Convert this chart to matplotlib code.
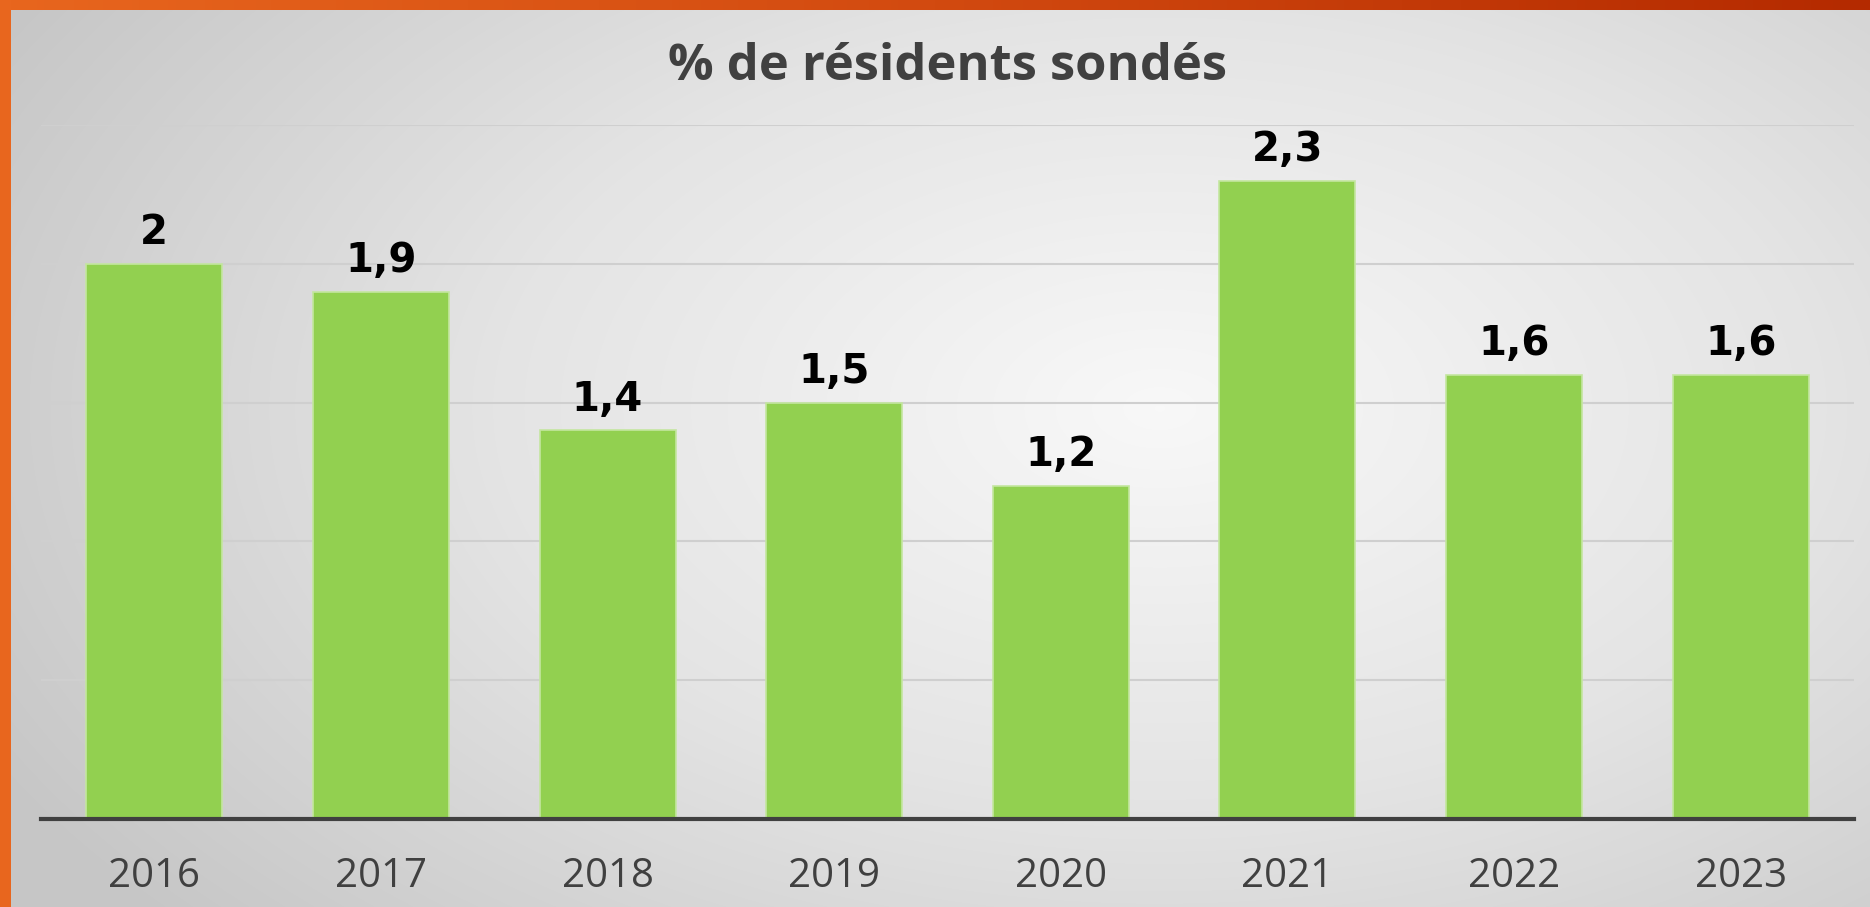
import numpy as np
import matplotlib
matplotlib.use("Agg")
import matplotlib.pyplot as plt
from matplotlib.colors import LinearSegmentedColormap

years = ["2016", "2017", "2018", "2019", "2020", "2021", "2022", "2023"]
values = [2.0, 1.9, 1.4, 1.5, 1.2, 2.3, 1.6, 1.6]
title = "% de résidents sondés"

W, H = 1870, 907
fig = plt.figure(figsize=(W / 100, H / 100), dpi=100)

# background radial gradient
bg = fig.add_axes([0, 0, 1, 1], zorder=-10)
yy, xx = np.mgrid[0:H, 0:W]
cx, cy = 0.62 * W, 0.45 * H
r = np.sqrt(((xx - cx) / (0.62 * W)) ** 2 + ((yy - cy) / (0.75 * H)) ** 2)
r = np.clip(r / 1.15, 0, 1)
cmap = LinearSegmentedColormap.from_list("bg", ["#f8f8f8", "#e4e4e4", "#c6c6c6"])
bg.imshow(r, cmap=cmap, extent=[0, W, H, 0], aspect="auto", vmin=0, vmax=1)
# orange border top and left
top = np.linspace(0, 1, W)[None, :]
ocmap = LinearSegmentedColormap.from_list("or", ["#e8661e", "#d24a10", "#b42a00"])
bg.imshow(np.repeat(top, 2, axis=0), cmap=ocmap, extent=[0, W, 10, 0], aspect="auto")
bg.imshow(np.zeros((2, 2)), cmap=ocmap, extent=[0, 11, H, 0], aspect="auto", vmin=0, vmax=1)
bg.set_xlim(0, W)
bg.set_ylim(H, 0)
bg.axis("off")

ax = fig.add_axes([41 / W, 1 - 819 / H, (1854 - 41) / W, (819 - 125) / H])
ax.set_facecolor("none")
x = np.arange(len(years))
bars = ax.bar(x, values, width=0.6, color="#92D050", edgecolor="#c4e6a0", linewidth=1.2, zorder=3)
ax.set_xlim(-0.5, len(years) - 0.5)
ax.set_ylim(0, 2.5)
ax.set_yticks(np.arange(0.5, 2.51, 0.5))
ax.yaxis.grid(True, color="#cfcfcf", linewidth=1.5, zorder=0)
ax.set_axisbelow(True)
ax.tick_params(axis="y", left=False, labelleft=False)
ax.set_xticks(x)
ax.set_xticklabels(years, fontsize=29, color="#404040", family="Open Sans")
ax.tick_params(axis="x", length=0, pad=27)
for s in ["top", "right", "left"]:
    ax.spines[s].set_visible(False)
ax.spines["bottom"].set_color("#404040")
ax.spines["bottom"].set_linewidth(3)
ax.spines["bottom"].set_zorder(5)

for xi, v in zip(x, values):
    lab = f"{v:g}".replace(".", ",")
    ax.annotate(lab, (xi, v), xytext=(0, 14), textcoords="offset points",
                ha="center", va="baseline", fontsize=29, fontweight="bold",
                color="#000000", family="DejaVu Sans")

fig.text(948 / W, 1 - 80 / H, title, ha="center", va="baseline", fontsize=36.5,
         fontweight="bold", color="#404040", family="Open Sans")

fig.savefig("out.png", dpi=100)
